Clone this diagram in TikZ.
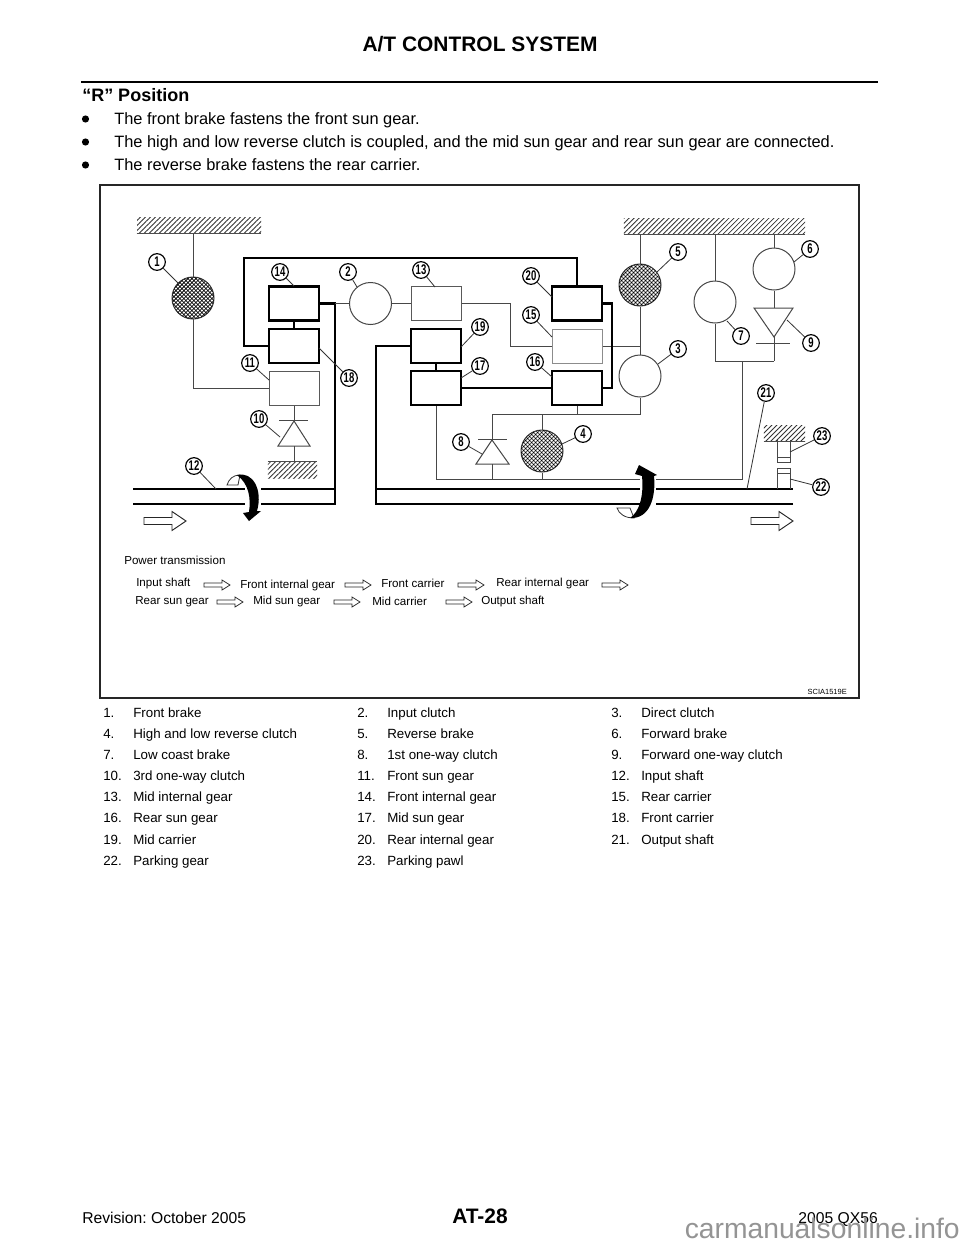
\documentclass[tikz,border=0pt]{standalone}
\usepackage{fontspec}
\usepackage{graphicx}
\setmainfont{Liberation Sans}
\usetikzlibrary{patterns.meta}
\tikzset{
 x=0.75pt,y=-0.75pt,
 thinl/.style={draw=black!72,line width=0.75pt},
 thickl/.style={draw=black,line width=1.6pt},
 leader/.style={draw=black!80,line width=0.6pt},
 boxn/.style={draw,minimum width=37.5pt,minimum height=25.5pt,inner sep=0pt,fill=white},
 heldbox/.style={boxn,draw=black,line width=1.6pt},
 freebox/.style={boxn,draw=black!65,line width=0.75pt},
 palebox/.style={boxn,draw=black!45,line width=0.75pt},
 clutch/.style={circle,minimum size=31.5pt,inner sep=0pt,draw=black!72,line width=0.75pt,fill=white},
 meshc/.style={clutch,draw=black!80,pattern={Lines[angle=45,distance=2.12pt,line width=0.55pt]},preaction={fill=white},postaction={pattern={Lines[angle=-45,distance=2.12pt,line width=0.55pt]}}},
 hatchn/.style={inner sep=0pt,minimum height=12pt,pattern={Lines[angle=45,distance=2.65pt,line width=0.6pt]},pattern color=black!80},
 numc/.style={circle,draw=black,line width=0.85pt,fill=white,minimum size=12.5pt,inner sep=0pt,font=\bfseries\fontsize{10.5}{11}\selectfont},
 txt/.style={inner sep=0pt,anchor=base west},
 legendt/.style={txt,font=\fontsize{10}{12}\selectfont},
 bodyt/.style={txt,font=\fontsize{11.76}{14}\selectfont},
 lineT/.style={txt,font=\fontsize{12.3}{14}\selectfont},
 ptt/.style={txt,font=\fontsize{8.7}{10}\selectfont},
 blockarrow/.style={draw=black!85,line width=0.7pt,fill=white},
}
\newcommand{\numlab}[3]{\node[numc] (n#3) at (#1,#2) {\scalebox{0.68}[1]{#3}};}
\newcommand{\lead}[3]{\coordinate (e#1) at (#2,#3); \draw[leader] (n#1) -- (e#1);}
\newcommand{\smarrow}[3]{\draw[blockarrow,line width=0.55pt] (#1,#3-2) -- ++(18,0) -- ++(0,-3) -- ++(8,5) -- ++(-8,5) -- ++(0,-3) -- ++(-18,0) -- cycle;}
\newcommand{\bigarrow}[2]{\draw[blockarrow] (#1,#2-3.5) -- ++(28,0) -- ++(0,-6) -- ++(14,9.5) -- ++(-14,9.5) -- ++(0,-6) -- ++(-28,0) -- cycle;}
\begin{document}
\frenchspacing
\begin{tikzpicture}
\useasboundingbox (0,0) rectangle (960,1242);
\fill[white] (0,0) rectangle (960,1242);
% page header
\node[inner sep=0pt,font=\bfseries\fontsize{15.7}{18}\selectfont] (title) at (480,44) {A/T CONTROL SYSTEM};
\coordinate (ruleL) at (81,82); \coordinate (ruleR) at (878,82);
\draw[black,line width=1.7pt] (ruleL) -- (ruleR);
\node[txt,font=\bfseries\fontsize{13.5}{16}\selectfont] (head) at (82,101) {“R” Position};
\foreach \yy/\tt in {124/The front brake fastens the front sun gear.,147/{The high and low reverse clutch is coupled, and the mid sun gear and rear sun gear are connected.},170/The reverse brake fastens the rear carrier.}{
 \fill[black] (85.5,\yy-5) circle[radius=3.6];
 \node[lineT] at (114,\yy) {\tt};
}
% frame
\draw[black!85,line width=1.1pt] (100,185) rectangle (859,698);
\node[inner sep=0pt,anchor=east,font=\fontsize{5.6}{6}\selectfont] (code) at (847,692) {SCIA1519E};
% grounds
\node[hatchn,minimum width=93pt] (g1) at (199,225) {};
\node[hatchn,minimum width=136pt] (g2) at (714.5,226.5) {};
\node[hatchn,minimum width=37pt] (g3) at (292.5,470) {};
\node[hatchn,minimum width=31pt] (g4) at (784.5,433) {};
\foreach \g in {g1,g2,g4}{\draw[black!70,line width=0.7pt] (\g.south west) -- (\g.south east);}
\draw[black!70,line width=0.7pt] (g3.north west) -- (g3.north east);
% elements
\node[meshc] (c1) at (193,298) {};
\node[clutch] (c2) at (370.5,303.5) {};
\node[clutch] (c3) at (640,376) {};
\node[meshc] (c4) at (542,451) {};
\node[meshc] (c5) at (640,285) {};
\node[clutch] (c6) at (774,269) {};
\node[clutch] (c7) at (715,302) {};
\node[heldbox] (b14) at (294,303.5) {};
\node[heldbox] (b18) at (294,346) {};
\node[freebox] (b11) at (294,388) {};
\node[freebox] (b13) at (436,303.5) {};
\node[heldbox] (b19) at (436,346) {};
\node[heldbox] (b17) at (436,388) {};
\node[heldbox] (b20) at (577,303.5) {};
\node[palebox] (b15) at (577,346) {};
\node[heldbox] (b16) at (577,388) {};
% shafts
\coordinate (sL1) at (133,489); \coordinate (sL2) at (133,504);
\coordinate (sK1) at (335,489); \coordinate (sK2) at (335,504);
\coordinate (sM1) at (376,489); \coordinate (sM2) at (376,504);
\coordinate (sR1) at (793,489); \coordinate (sR2) at (793,504);
\draw[thickl] (sL1) -- (sK1);
\draw[thickl] (sL2) -- (sK2) -- (sK1);
\draw[thickl] (sM1) -- (sR1);
\draw[thickl] (sR2) -- (sM2) -- (sM1);
% thin connectors
\coordinate (j1) at (193,388);
\draw[thinl] (g1.south -| c1) -- (c1);
\draw[thinl] (c1) -- (j1) -- (b11.west);
\draw[thinl] (b13.west) -- (c2.east);
\coordinate (k1) at (510,303.5); \coordinate (k2) at (510,346);
\draw[thinl] (b13.east) -- (k1) -- (k2) -- (b15.west);
\coordinate (k3) at (640,346);
\draw[thinl] (b15.east) -- (k3);
\draw[thinl] (g2.south -| c5) -- (c5);
\draw[thinl] (c5) -- (c3);
\coordinate (m1) at (640,414); \coordinate (m2) at (492,414);
\draw[thinl] (c3) -- (m1) -- (m2);
\coordinate (m3) at (577,414);
\draw[thinl] (b16.south) -- (m3);
\coordinate (m4) at (542,414);
\draw[thinl] (m4) -- (c4);
\coordinate (q1) at (436,479); \coordinate (q2) at (742,479); \coordinate (q3) at (742,361);
\draw[thinl] (b17.south) -- (q1) -- (q2) -- (q3);
\coordinate (q4) at (542,479);
\draw[thinl] (c4) -- (q4);
\coordinate (q5) at (715,361); \coordinate (q6) at (774,361);
\draw[thinl] (q5) -- (q6);
\draw[thinl] (g2.south -| c7) -- (c7);
\draw[thinl] (c7) -- (q5);
\draw[thinl] (g2.south -| c6) -- (c6);
% diodes
\coordinate (d8a) at (492,440); \coordinate (d8b) at (492,464); \coordinate (d8c) at (492,479);
\draw[thinl] (m2) -- (d8a);
\draw[thinl,fill=white] (d8a) -- (476,464) -- (509,464) -- cycle;
\draw[thinl] (478,439.5) -- (507,439.5);
\draw[thinl] (d8b) -- (d8c);
\coordinate (d9b) at (774,308); \coordinate (d9a) at (774,337);
\draw[thinl] (c6) -- (d9b);
\draw[thinl,fill=white] (d9a) -- (754,308) -- (793,308) -- cycle;
\draw[thinl] (756,343) -- (790,343);
\draw[thinl] (d9a) -- (q6);
\coordinate (d10a) at (294,421); \coordinate (d10b) at (294,446);
\draw[thinl] (b11.south) -- (d10a);
\draw[thinl,fill=white] (d10a) -- (278,446) -- (310,446) -- cycle;
\draw[thinl] (279,420) -- (308,420);
\draw[thinl] (d10b) -- (d10b |- g3.north);
% thick connectors
\draw[thickl] (b14) -- (b18);
\coordinate (t1) at (244,346); \coordinate (t2) at (244,258); \coordinate (t3) at (577,258);
\draw[thickl] (b18.west) -- (t1) -- (t2) -- (t3) -- (b20.north);
\coordinate (t4) at (335,303.5);
\draw[thickl] (b14.east) -- (t4) -- (sK1);
\draw[thinl] (t4) -- (c2.west);
\coordinate (t5) at (376,346);
\draw[thickl] (b19.west) -- (t5) -- (sM1);
\draw[thickl] (b19) -- (b17);
\draw[thickl] (b17.east) -- (b16.west);
\coordinate (t6) at (612,303.5); \coordinate (t7) at (612,388);
\draw[thickl] (b20.east) -- (t6) -- (t7) -- (b16.east);
% parking
\draw[thinl] (777,440) -- (777,462) -- (790,462) -- (790,440);
\draw[thinl] (777,457) -- (790,457);
\draw[thinl] (777,489) -- (777,468) -- (790,468) -- (790,489);
\draw[thinl] (777,473) -- (790,473);
% rotation arrows
\fill[white] (245,474) rectangle (261,522);
\draw[black!80,line width=0.6pt,fill=white] (227,485) .. controls (229,479) and (233,475) .. (240,475) -- (238,485) -- cycle;
\fill[black] (237,475) .. controls (253,471) and (263,490) .. (257,511) -- (261,511) -- (249,521) -- (243,513) -- (249,512) .. controls (251,498) and (249,484) .. (237,475) -- cycle;
\fill[white] (640,464) rectangle (656,520);
\draw[black!80,line width=0.6pt,fill=white] (617,508) .. controls (619,514) and (625,518) .. (634,518) -- (630,508) -- cycle;
\fill[black] (639,465) -- (657,475) -- (654,476) .. controls (656,497) and (650,519) .. (630,518) .. controls (639,512) and (644,497) .. (642,476) -- (635,474) -- cycle;
% open arrows
\bigarrow{144}{521}
\bigarrow{751}{521}
% number labels
\numlab{157}{262}{1}\lead{1}{178}{283}
\numlab{348}{272}{2}\lead{2}{357}{287}
\numlab{678}{349}{3}\lead{3}{658}{364}
\numlab{583}{434}{4}\lead{4}{562}{444}
\numlab{678}{252}{5}\lead{5}{657}{272}
\numlab{810}{249}{6}\lead{6}{794}{262}
\numlab{741}{336}{7}\lead{7}{727}{321}
\numlab{461}{442}{8}\lead{8}{482}{454}
\numlab{811}{343}{9}\lead{9}{787}{320}
\numlab{259}{419}{10}\lead{10}{280}{437}
\numlab{250}{363}{11}\lead{11}{269}{380}
\numlab{194}{466}{12}\lead{12}{216}{489}
\numlab{421}{270}{13}\lead{13}{435}{287}
\numlab{280}{272}{14}\lead{14}{294}{286}
\numlab{531}{315}{15}\lead{15}{552}{337}
\numlab{535}{362}{16}\lead{16}{552}{377}
\numlab{480}{366}{17}\lead{17}{461}{378}
\numlab{349}{378}{18}\lead{18}{319}{348}
\numlab{480}{327}{19}\lead{19}{461}{347}
\numlab{531}{276}{20}\lead{20}{552}{297}
\numlab{766}{393}{21}\lead{21}{747}{489}
\numlab{821}{487}{22}\lead{22}{790}{479}
\numlab{822}{436}{23}\lead{23}{790}{452}
% power transmission
\node[ptt] (p0) at (124,564) {Power transmission};
\node[ptt] (p1) at (136,586) {Input shaft};
\smarrow{204}{0}{585}
\node[ptt] (p2) at (240,588) {Front internal gear};
\smarrow{345}{0}{585}
\node[ptt] (p3) at (381,587) {Front carrier};
\smarrow{458}{0}{585}
\node[ptt] (p4) at (496,586) {Rear internal gear};
\smarrow{602}{0}{585}
\node[ptt] (p5) at (135,604) {Rear sun gear};
\smarrow{217}{0}{602}
\node[ptt] (p6) at (253,604) {Mid sun gear};
\smarrow{334}{0}{602}
\node[ptt] (p7) at (372,605) {Mid carrier};
\smarrow{446}{0}{602}
\node[ptt] (p8) at (481,604) {Output shaft};
% legend
\foreach \xa/\xb/\yy/\na/\tb in {
103/133/717/1./Front brake,357/387/717/2./Input clutch,611/641/717/3./Direct clutch,
103/133/738/4./High and low reverse clutch,357/387/738/5./Reverse brake,611/641/738/6./Forward brake,
103/133/759/7./Low coast brake,357/387/759/8./1st one-way clutch,611/641/759/9./Forward one-way clutch,
103/133/780/10./3rd one-way clutch,357/387/780/11./Front sun gear,611/641/780/12./Input shaft,
103/133/801/13./Mid internal gear,357/387/801/14./Front internal gear,611/641/801/15./Rear carrier,
103/133/822/16./Rear sun gear,357/387/822/17./Mid sun gear,611/641/822/18./Front carrier,
103/133/844/19./Mid carrier,357/387/844/20./Rear internal gear,611/641/844/21./Output shaft,
103/133/865/22./Parking gear,357/387/865/23./Parking pawl}{
 \node[legendt] at (\xa,\yy) {\na};
 \node[legendt] at (\xb,\yy) {\tb};
}
% footer
\node[bodyt] (rev) at (82,1223) {Revision: October 2005};
\node[txt,font=\bfseries\fontsize{15.7}{18}\selectfont,anchor=base] (pg) at (480,1223) {AT-28};
\node[bodyt,anchor=base east] (qx) at (878,1223) {2005 QX56};
\node[inner sep=0pt,anchor=base east,text=black!42,font=\fontsize{21.2}{24}\selectfont] (wm) at (960,1238) {carmanualsonline.info};
\end{tikzpicture}
\end{document}
